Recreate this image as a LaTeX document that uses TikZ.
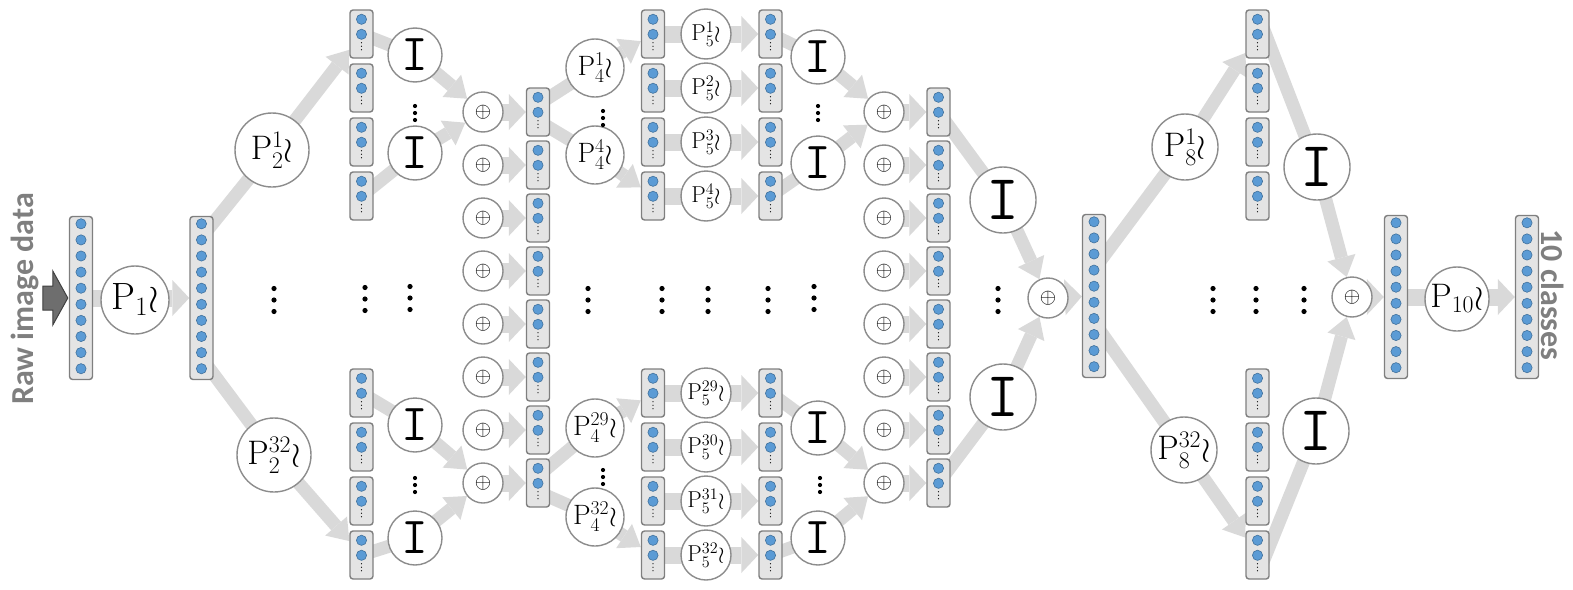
\RequirePackage{fix-cm}
\documentclass[tikz,border=0pt]{standalone}
\usepackage{fontspec}
\newfontfamily\labelfont{Carlito}
\usepackage{tikz}
\usetikzlibrary{positioning,calc,arrows.meta,backgrounds}

\definecolor{flowgray}{HTML}{D9D9D9}
\definecolor{boxfill}{HTML}{E4E4E4}
\definecolor{boxline}{HTML}{7F7F7F}
\definecolor{ringline}{HTML}{8C8C8C}
\definecolor{unitblue}{HTML}{5B9BD5}
\definecolor{unitedge}{HTML}{41719C}
\definecolor{labelgray}{HTML}{7F7F7F}
\definecolor{ingray}{HTML}{6E6E6E}

\tikzset{
  vec/.style={draw=boxline, fill=boxfill, line width=1.4pt, rounded corners=3pt, minimum width=23pt, inner sep=0pt},
  bigvec/.style={vec, minimum height=163pt},
  smallvec/.style={vec, minimum height=48pt},
  ring/.style={circle, draw=ringline, fill=white, line width=1.4pt, inner sep=0pt, minimum size=#1},
  fs/.style={font=\fontsize{#1}{#1}\selectfont},
  idlab/.style={font=\fontsize{#1}{#1}\selectfont\ttfamily},
  neuron/.style={fill=unitblue, draw=unitedge, line width=0.6pt},
  flow/.style={draw=flowgray, line width=17pt, -{Triangle[length=17pt, width=36pt, line width=0pt]}},
  flowthin/.style={draw=flowgray, line width=13pt, -{Triangle[length=20pt, width=29pt, line width=0pt]}},
  vdts/.pic={\fill (0,-11.5) circle (2.6pt) (0,0) circle (2.6pt) (0,11.5) circle (2.6pt);},
  vdtsmall/.pic={\fill (0,-7) circle (2.1pt) (0,0) circle (2.1pt) (0,7) circle (2.1pt);}
}

% units inside the layer boxes
\newcommand{\bigunits}[1]{\foreach \q in {0,...,9} {\draw[neuron] ($(#1.north)+(0,{8+16.1*\q})$) circle (5.1pt);}}
\newcommand{\smallunits}[1]{%
  \draw[neuron] ($(#1.north)+(0,10)$) circle (5.1pt) ($(#1.north)+(0,25)$) circle (5.1pt);
  \fill ($(#1.north)+(0,33.5)$) circle (0.6pt) ($(#1.north)+(0,37)$) circle (0.6pt) ($(#1.north)+(0,40.5)$) circle (0.6pt);}

\begin{document}
\begin{tikzpicture}[x=1pt, y=-1pt]
\useasboundingbox (0,0) rectangle (1573,589);

% full layers
\node[bigvec] (v0) at (81,298) {};
\node[bigvec] (v1) at (201.5,298) {};
\node[bigvec] (v2) at (1094,296) {};
\node[bigvec] (v3) at (1396,297) {};
\node[bigvec] (v4) at (1527,297) {};
\foreach \v in {v0,v1,v2,v3,v4} {\bigunits{\v}}

% split columns (4 + 4)
\foreach \ii/\yy/\lab in {1/34/1,2/88/2,3/142/3,4/196/4,5/393/29,6/447/30,7/501/31,8/555/32} {
  \node[smallvec] (c1v\ii) at (361.5,\yy) {};
  \node[smallvec] (c3v\ii) at (653,\yy) {};
  \node[smallvec] (c4v\ii) at (770.5,\yy) {};
  \node[smallvec] (c6v\ii) at (1257.5,\yy) {};
  \node[ring=50pt, fs=23] (p5\ii) at (706,\yy) {$\mathrm{P}^{\lab}_{5}\wr$};
}
% summed columns (8)
\foreach \ii in {1,...,8} {
  \node[smallvec] (c2v\ii) at (538,{112+53*(\ii-1)}) {};
  \node[smallvec] (c5v\ii) at (938.5,{112+53*(\ii-1)}) {};
  \node[ring=40pt, fs=21] (sa\ii) at (483,{112+53*(\ii-1)}) {$\oplus$};
  \node[ring=40pt, fs=21] (sb\ii) at (884,{112+53*(\ii-1)}) {$\oplus$};
}
\foreach \cc in {1,...,6} \foreach \ii in {1,...,8} {\smallunits{c\cc v\ii}}

% permutation nodes
\node[ring=68pt, fs=38] (p1) at (135,300) {$\mathrm{P}_{1}\wr$};
\node[ring=74pt, fs=34] (p2a) at (272,150) {$\mathrm{P}^{1}_{2}\wr$};
\node[ring=74pt, fs=34] (p2b) at (274,455) {$\mathrm{P}^{32}_{2}\wr$};
\node[ring=58pt, fs=28] (p4a) at (595,68) {$\mathrm{P}^{1}_{4}\wr$};
\node[ring=58pt, fs=28] (p4b) at (595,155) {$\mathrm{P}^{4}_{4}\wr$};
\node[ring=58pt, fs=28] (p4c) at (595,428) {$\mathrm{P}^{29}_{4}\wr$};
\node[ring=58pt, fs=28] (p4d) at (595,517) {$\mathrm{P}^{32}_{4}\wr$};
\node[ring=66pt, fs=34] (p8a) at (1185,147) {$\mathrm{P}^{1}_{8}\wr$};
\node[ring=66pt, fs=34] (p8b) at (1184,450) {$\mathrm{P}^{32}_{8}\wr$};
\node[ring=64pt, fs=34] (p10) at (1457,299) {$\mathrm{P}_{10}\wr$};

% identity nodes
\foreach \nm/\x/\y in {ia1/415/55, ia2/415/153, ia3/415/425, ia4/415/538, ib1/818/57, ib2/818/163, ib3/818/428, ib4/818/538}
  \node[ring=54pt, idlab=52] (\nm) at (\x,\y) {I};
\node[ring=66pt, idlab=64] (ic1) at (1003,200) {I};
\node[ring=66pt, idlab=64] (ic2) at (1003,397) {I};
\node[ring=66pt, idlab=64] (id1) at (1317,167) {I};
\node[ring=66pt, idlab=64] (id2) at (1316,431) {I};
\node[ring=40pt, fs=21] (sc) at (1048,298) {$\oplus$};
\node[ring=40pt, fs=21] (sd) at (1352,297) {$\oplus$};

% elided parts
\foreach \x/\y in {274/300, 365/299, 410/298, 588/300, 662/300, 708/300, 768/300, 814/298, 998/300, 1213/300, 1256/300, 1304/300}
  \pic at (\x,\y) {vdts};
\foreach \x/\y in {415/113, 415/485, 603/118, 603/477, 818/113, 820/485}
  \pic at (\x,\y) {vdtsmall};

% input arrow and labels
\filldraw[fill=ingray, draw=black!75, line width=1pt] ($(v0.west)+(-26,-12)$) -- ++(10,0) -- ++(0,-15) -- ($(v0.west)+(-1,0)$) -- ($(v0.west)+(-16,27)$) -- ++(0,-15) -- ++(-10,0) -- cycle;
\node[rotate=90, text=labelgray, font=\labelfont\bfseries\fontsize{32}{32}\selectfont] (rawlbl) at (25,299) {Raw image data};
\node[rotate=-90, text=labelgray, font=\labelfont\bfseries\fontsize{32}{32}\selectfont] (outlbl) at (1553,295) {10 classes};

\begin{scope}[on background layer]
\draw[flow] (v0.center) -- (v1);
\draw[flowthin] ($(v1.north east)+(-6,14)$) -- (p2a.center) -- (c1v1);
\draw[flowthin] ($(v1.south east)+(-6,-14)$) -- (p2b.center) -- (c1v8);
\draw[flowthin] (c1v1.center) -- (ia1.center) -- (sa1);
\draw[flowthin] (c1v4.center) -- (ia2.center) -- (sa1);
\draw[flowthin] (c1v5.center) -- (ia3.center) -- (sa8);
\draw[flowthin] (c1v8.center) -- (ia4.center) -- (sa8);
\foreach \ii in {1,...,8} {
  \draw[flow] (sa\ii.center) -- (c2v\ii);
  \draw[flow] (c3v\ii.center) -- (c4v\ii);
  \draw[flow] (sb\ii.center) -- (c5v\ii);
}
\draw[flowthin] ($(c2v1.center)+(7,-12)$) -- (p4a.center) -- (c3v1);
\draw[flowthin] ($(c2v1.center)+(7,13)$) -- (p4b.center) -- (c3v4);
\draw[flowthin] ($(c2v8.center)+(7,-13)$) -- (p4c.center) -- (c3v5);
\draw[flowthin] ($(c2v8.center)+(7,12)$) -- (p4d.center) -- (c3v8);
\draw[flowthin] (c4v1.center) -- (ib1.center) -- (sb1);
\draw[flowthin] (c4v4.center) -- (ib2.center) -- (sb1);
\draw[flowthin] (c4v5.center) -- (ib3.center) -- (sb8);
\draw[flowthin] (c4v8.center) -- (ib4.center) -- (sb8);
\draw[flowthin] (c5v1.center) -- (ic1.center) -- (sc);
\draw[flowthin] (c5v8.center) -- (ic2.center) -- (sc);
\draw[flow] (sc.center) -- (v2);
\draw[flowthin] ($(v2.east)+(-6,-35)$) -- (p8a.center) -- (c6v1);
\draw[flowthin] ($(v2.east)+(-6,35)$) -- (p8b.center) -- (c6v8);
\draw[flowthin] ($(c6v1.north)+(0,4)$) -- (id1.center) -- (sd);
\draw[flowthin] ($(c6v8.south)+(0,-4)$) -- (id2.center) -- (sd);
\draw[flow] (sd.center) -- (v3);
\draw[flow] (v3.center) -- (v4);
\end{scope}
\end{tikzpicture}
\end{document}
